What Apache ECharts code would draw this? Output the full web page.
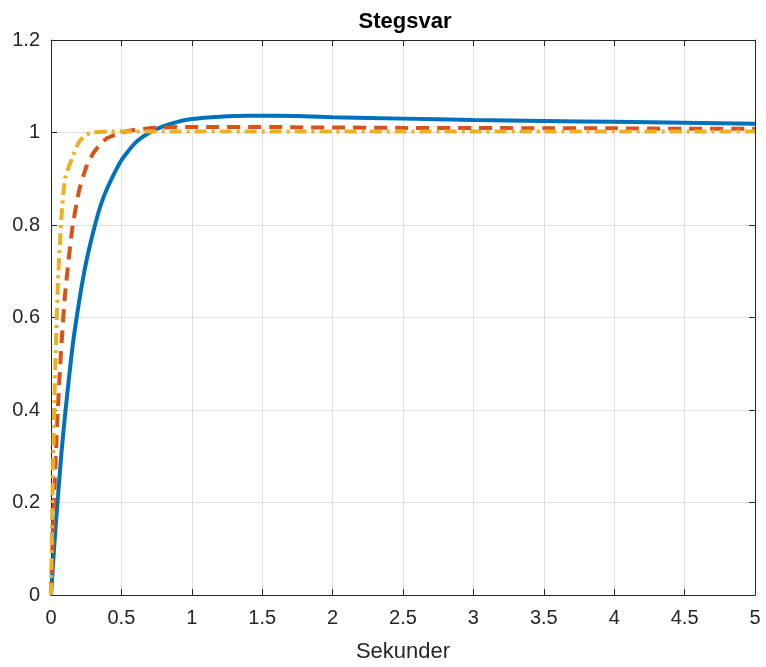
<!DOCTYPE html>
<html>
<head>
<meta charset="utf-8">
<script src="https://cdn.jsdelivr.net/npm/echarts@6/dist/echarts.min.js"></script>
<style>
  html, body { margin: 0; padding: 0; background: #fff; }
  #main { width: 766px; height: 667px; }
</style>
</head>
<body>
<div id="main"></div>
<script>
// tidpunkter (s) och avlästa stegsvar
const tid = [0, 0.01, 0.025, 0.05, 0.075, 0.1, 0.15, 0.2, 0.25, 0.3, 0.35, 0.4, 0.5, 0.6, 0.7, 0.8, 0.9, 1.0, 1.2, 1.4, 1.6, 1.8, 2.0, 2.5, 3.0, 3.5, 4.0, 4.5, 5.0];
const blaa = [0, 0.045, 0.115, 0.215, 0.31, 0.39, 0.53, 0.635, 0.72, 0.785, 0.84, 0.88, 0.94, 0.978, 1.0, 1.014, 1.023, 1.029, 1.034, 1.036, 1.036, 1.035, 1.033, 1.030, 1.027, 1.025, 1.023, 1.021, 1.019];
const roed = [0, 0.1, 0.23, 0.41, 0.545, 0.65, 0.79, 0.875, 0.925, 0.955, 0.975, 0.988, 1.0, 1.006, 1.009, 1.011, 1.012, 1.012, 1.012, 1.012, 1.012, 1.011, 1.011, 1.010, 1.010, 1.009, 1.009, 1.008, 1.008];
const gul = [0, 0.2, 0.43, 0.68, 0.82, 0.9, 0.945, 0.98, 0.995, 1.0, 1.001, 1.002, 1.002, 1.002, 1.002, 1.002, 1.002, 1.002, 1.002, 1.002, 1.002, 1.002, 1.002, 1.002, 1.002, 1.002, 1.002, 1.002, 1.002];

const par = (ys) => tid.map((t, i) => [t, ys[i]]);

const textfarg = '#262626';
const fnt = 'Liberation Sans, Arial, Helvetica, sans-serif';

let myChart = echarts.init(document.getElementById('main'));

let axelX = {
    type: 'value', min: 0, max: 5, interval: 0.5,
    axisLine: { show: true, onZero: false, lineStyle: { color: textfarg, width: 1 } },
    axisTick: { show: true, inside: true, length: 6, lineStyle: { color: textfarg } },
    splitLine: { show: true, lineStyle: { color: '#dfdfdf', width: 1 } }
};
let axelY = {
    type: 'value', min: 0, max: 1.2, interval: 0.2,
    axisLine: { show: true, onZero: false, lineStyle: { color: textfarg, width: 1 } },
    axisTick: { show: true, inside: true, length: 6, lineStyle: { color: textfarg } },
    splitLine: { show: true, lineStyle: { color: '#dfdfdf', width: 1 } }
};

let option = {
    animation: false,
    title: {
        text: 'Stegsvar',
        left: 400, top: 6, textAlign: 'center',
        textStyle: { fontFamily: fnt, fontSize: 22, fontWeight: 'bold', color: '#000' }
    },
    grid: { left: 51, right: 11, top: 40, bottom: 72, outerBoundsMode: 'none' },
    xAxis: [
        Object.assign({}, axelX, {
            position: 'bottom',
            name: 'Sekunder', nameLocation: 'middle', nameGap: 46,
            nameTextStyle: { fontFamily: fnt, fontSize: 22, color: textfarg },
            axisLabel: { fontFamily: fnt, fontSize: 20, color: textfarg, margin: 13 }
        }),
        Object.assign({}, axelX, { position: 'top', axisLabel: { show: false }, splitLine: { show: false } })
    ],
    yAxis: [
        Object.assign({}, axelY, {
            position: 'left',
            axisLabel: { fontFamily: fnt, fontSize: 20, color: textfarg, margin: 11 }
        }),
        Object.assign({}, axelY, { position: 'right', axisLabel: { show: false }, splitLine: { show: false } })
    ],
    series: [
        {
            type: 'line', data: par(blaa), showSymbol: false, smooth: 0.2,
            lineStyle: { color: '#0072BD', width: 4, type: 'solid' }
        },
        {
            type: 'line', data: par(roed), showSymbol: false, smooth: 0.2,
            lineStyle: { color: '#D95319', width: 4, type: [13, 8] }
        },
        {
            type: 'line', data: par(gul), showSymbol: false, smooth: 0.2,
            lineStyle: { color: '#EDB120', width: 4, type: [12, 5, 3, 5] }
        }
    ]
};
myChart.setOption(option);
</script>
</body>
</html>
